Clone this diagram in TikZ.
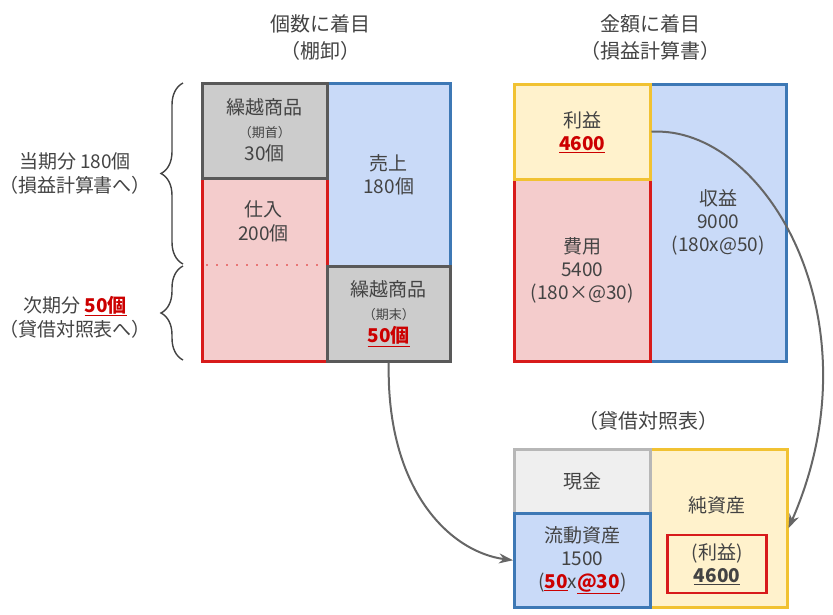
\documentclass[tikz,border=0pt]{standalone}
\usepackage{fontspec}
\setmainfont{Noto Sans CJK JP}
\definecolor{txt}{HTML}{434343}
\definecolor{hl}{HTML}{CC0000}
\definecolor{grayfill}{HTML}{CCCCCC}
\definecolor{grayline}{HTML}{595959}
\definecolor{redfill}{HTML}{F4CCCC}
\definecolor{redline}{HTML}{D81B1B}
\definecolor{bluefill}{HTML}{C9DAF8}
\definecolor{blueline}{HTML}{3D78B5}
\definecolor{yelfill}{HTML}{FFF2CC}
\definecolor{yelline}{HTML}{F1C232}
\definecolor{lgfill}{HTML}{EFEFEF}
\definecolor{lgline}{HTML}{B7B7B7}
\definecolor{arrline}{HTML}{666666}
\usetikzlibrary{arrows.meta,decorations.pathreplacing}

\begin{document}
\begin{tikzpicture}[x=1pt,y=-1pt,>={Stealth[length=14pt,width=10pt]},
    box/.style={draw,line width=2.5pt,inner sep=0pt,anchor=north west,align=center,
        text=txt,font=\fontsize{19}{23}\selectfont},
    graybox/.style={box,draw=grayline,fill=grayfill},
    redbox/.style={box,draw=redline,fill=redfill},
    bluebox/.style={box,draw=blueline,fill=bluefill},
    yelbox/.style={box,draw=yelline,fill=yelfill},
    lgbox/.style={box,draw=lgline,fill=lgfill},
    label/.style={align=center,text=txt,font=\fontsize{19}{24}\selectfont},
    title/.style={align=center,text=txt,font=\fontsize{20}{27}\selectfont},
    arr/.style={->,draw=arrline,line width=2pt}]
    \useasboundingbox (0,0) rectangle (833,614);
    % titles
    \node[title] (t1) at (320,38) {個数に着目\\（棚卸）};
    \node[title] (t2) at (650,38) {金額に着目\\（損益計算書）};
    \node[title] (t3) at (648,421) {（貸借対照表）};
    % left: 棚卸
    \node[bluebox,minimum width=123pt,minimum height=183pt] (uriage) at (326,82) {売上\\180個};
    \node[redbox,minimum width=125pt,minimum height=183pt] (shiire) at (201,177) {};
    \node[label] (shiiretxt) at (263.5,221) {仕入\\200個};
    \draw[redline!60,line width=1.5pt,dash pattern=on 1.5pt off 8.5pt] (206,265) -- (322,265);
    \node[graybox,minimum width=125pt,minimum height=95pt] (zaiko1) at (201,82)
        {繰越商品\\{\fontsize{13}{23}\selectfont （期首）}\\30個};
    \node[graybox,minimum width=123pt,minimum height=95pt] (zaiko2) at (326,265)
        {繰越商品\\{\fontsize{13}{23}\selectfont （期末）}\\\textcolor{hl}{\textbf{\underline{50個}}}};
    \draw[decorate,decoration={brace,amplitude=22pt},line width=1.4pt,draw=txt] (183,264) -- (183,83);
    \draw[decorate,decoration={brace,amplitude=22pt},line width=1.4pt,draw=txt] (183,360) -- (183,266);
    \node[label] (touki) at (75,173) {当期分 180個\\（損益計算書へ）};
    \node[label] (jiki) at (75,317) {次期分 \textcolor{hl}{\textbf{\underline{50個}}}\\（貸借対照表へ）};
    % right: 損益計算書
    \node[bluebox,minimum width=136pt,minimum height=277pt] (shueki) at (649,83) {収益\\9000\\(180x@50)};
    \node[redbox,minimum width=136pt,minimum height=182pt] (hiyo) at (513,178) {費用\\5400\\(180×@30)};
    \node[yelbox,minimum width=136pt,minimum height=95pt] (rieki) at (513,83)
        {利益\\\textcolor{hl}{\textbf{\underline{4600}}}};
    % bottom: 貸借対照表
    \node[yelbox,minimum width=137pt,minimum height=158pt] (junshi) at (649,448) {};
    \node[label] (junshitxt) at (717,505) {純資産};
    \node[box,draw=redline,minimum width=99pt,minimum height=58pt,anchor=center] (rieki2) at (717,564)
        {(利益)\\\textbf{\underline{4600}}};
    \node[lgbox,minimum width=136pt,minimum height=64pt] (genkin) at (513,448) {現金};
    \node[bluebox,minimum width=136pt,minimum height=94pt] (ryudo) at (513,512)
        {流動資産\\1500\\(\textcolor{hl}{\textbf{\underline{50}}}x\textcolor{hl}{\textbf{\underline{@30}}})};
    % arrows
    \draw[arr] (zaiko2.south) .. controls (386,490) and (450,552) .. (ryudo.west);
    \draw[arr] (rieki.east) .. controls (765,125) and (880,320) .. (junshi.east);
\end{tikzpicture}
\end{document}
